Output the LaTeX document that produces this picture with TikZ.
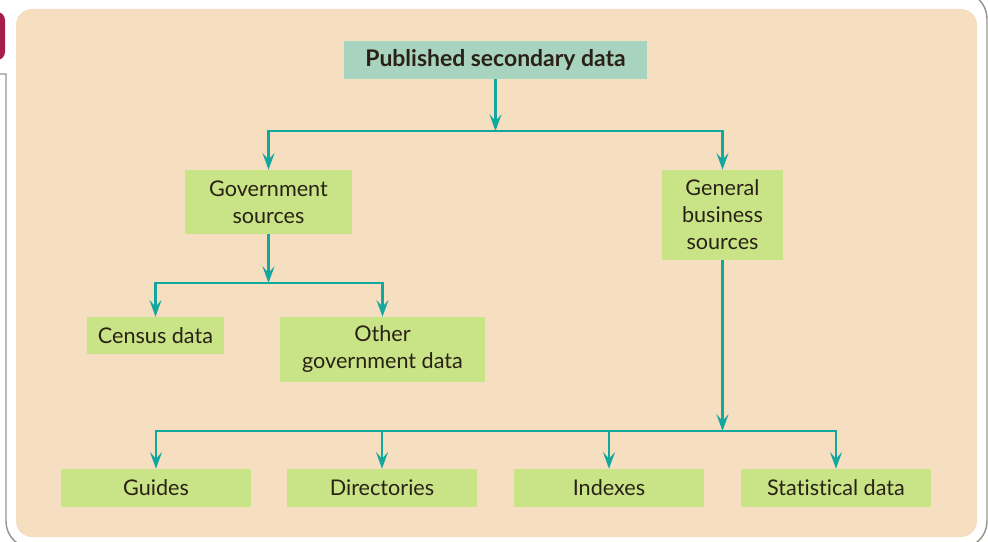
\documentclass[tikz,border=0pt]{standalone}
\usepackage{fontspec}
\setmainfont{Lato}[Ligatures=NoCommon]
\usetikzlibrary{arrows.meta}

\definecolor{peach}{RGB}{246,222,192}
\definecolor{leaf}{RGB}{201,228,135}
\definecolor{mint}{RGB}{168,211,190}
\definecolor{flowteal}{RGB}{18,168,160}
\definecolor{ink}{RGB}{42,33,22}
\definecolor{tabred}{RGB}{166,31,75}
\definecolor{framegray}{RGB}{150,150,140}

\begin{document}
\begin{tikzpicture}[x=0.75pt,y=0.75pt,yscale=-1,xscale=1,
  box/.style={fill=leaf, inner sep=0pt, align=center, text=ink, font=\fontsize{16.2}{20.25}\selectfont},
  headbox/.style={box, fill=mint, font=\bfseries\fontsize{17.2}{20.25}\selectfont},
  link/.style={draw=flowteal, line width=1.8pt, -{Stealth[length=12.5pt,width=9pt,inset=5pt]}}]
\useasboundingbox (0,0) rectangle (988,542);

%Shape: Frame
\draw [draw=framegray, line width=1.1pt] (0,74) -- (6,74) [rounded corners=20] -- (6,548) -- (987,548) -- (987,-8) -- (950,-8) ;
%Shape: Tab
\fill [tabred, rounded corners=6] (-10,12) rectangle (5,60) ;
%Shape: Panel
\fill [peach, rounded corners=12] (16,9) rectangle (977,537) ;

% Text Node
\node [headbox, minimum width=227.25pt, minimum height=28.5pt] (pub) at (495.5,60) {Published secondary data};
% Text Node
\node [box, minimum width=125.25pt, minimum height=48pt] (gov) at (268.5,202) {Government\\sources};
% Text Node
\node [box, minimum width=90.75pt, minimum height=67.5pt] (gen) at (722.5,215) {General\\business\\sources};
% Text Node
\node [box, minimum width=102.75pt, minimum height=27.75pt] (census) at (155.5,335.5) {Census data};
% Text Node
\node [box, minimum width=153.75pt, minimum height=48.75pt] (othergov) at (382.5,349.5) {Other\\government data};
% Text Node
\node [box, minimum width=142.5pt, minimum height=28.5pt] (guides) at (156,488) {Guides};
% Text Node
\node [box, minimum width=142.5pt, minimum height=28.5pt] (directories) at (382,488) {Directories};
% Text Node
\node [box, minimum width=142.5pt, minimum height=28.5pt] (indexes) at (609,488) {Indexes};
% Text Node
\node [box, minimum width=142.5pt, minimum height=28.5pt] (statdata) at (836,488) {Statistical data};

\coordinate (hubTop) at (495.5,131);
\coordinate (hubGov) at (268.5,283);
\coordinate (hubGen) at (722.5,431);

%Straight Lines
\draw [link] (pub) -- (hubTop) ;
\draw [link] (hubTop) -| (gov) ;
\draw [link] (hubTop) -| (gen) ;
%Straight Lines
\draw [link] (gov) -- (hubGov) ;
\draw [link] (hubGov) -| (census) ;
\draw [link] (hubGov) -| (othergov) ;
%Straight Lines
\draw [link] (gen) -- (hubGen) ;
\draw [link] (hubGen) -| (guides) ;
\draw [link] (hubGen) -| (directories) ;
\draw [link] (hubGen) -| (indexes) ;
\draw [link] (hubGen) -| (statdata) ;

\end{tikzpicture}
\end{document}
